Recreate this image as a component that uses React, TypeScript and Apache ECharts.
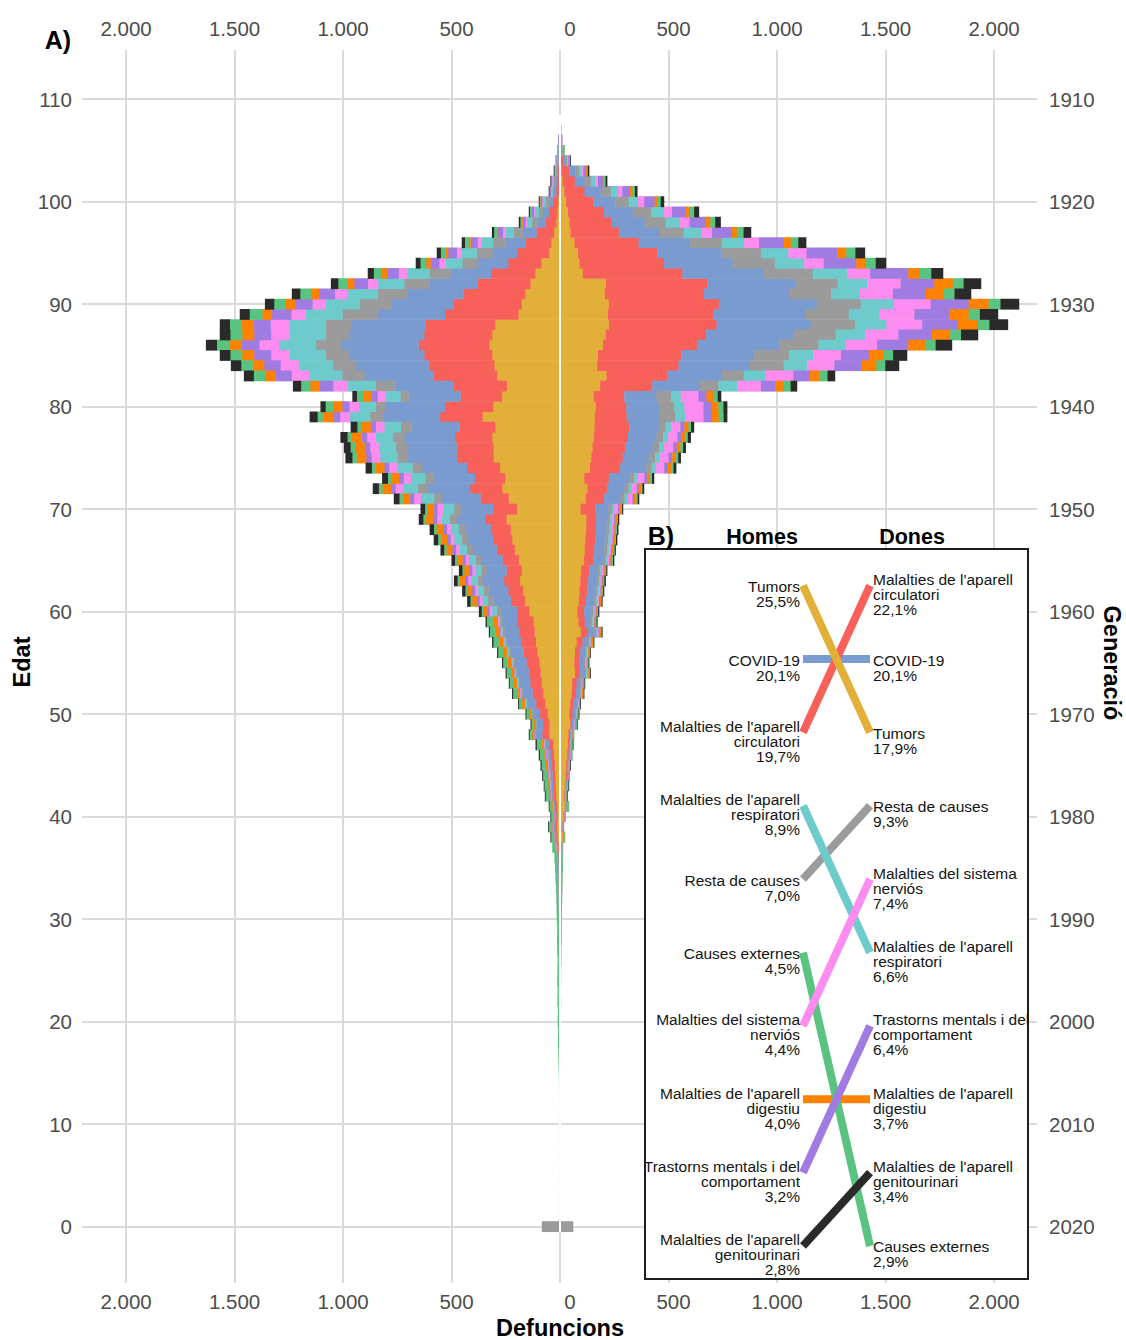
import React, { useEffect, useRef } from 'react';
import * as echarts from 'echarts';

const FONT = '"Liberation Sans", Arial, Helvetica, sans-serif';

// ---------- Panel A: deaths by single age (0..108) ----------
const ages: number[] = [...Array(109).keys()];

// Men (Homes) – one array per cause, ages 0..108
const menTumors = [
  0,1,1,1,0,1,0,1,0,1, 1,1,1,1,1,1,2,2,
  1,1,1,1,1,1,2,1,1,2, 2,2,2,2,3,3,3,4,5,7,
  12,15,12,14,19,21,23,25,28,33,
  51,49,57,69,79,85,90,96,104,112,118,123,
  142,162,171,185,177,190,209,221,228,247,
  199,237,267,254,277,306,308,313,299,357,
  309,268,
  246,291,303,313,326,313,300,
  192,177,161,137,115,86,
  51,41,28,17,13,9,5,4,2,2,1,1,0,0];
const menCirc = [
  0,0,0,0,0,0,0,0,0,0, 0,0,0,0,0,0,0,0,
  0,0,1,0,1,1,1,1,1,1, 1,1,1,2,2,2,2,2,3,4,
  6,8,6,8,10,11,12,13,15,18,
  31,30,35,42,48,52,55,59,64,69,72,75,
  56,64,68,73,70,75,83,87,90,98,
  109,130,147,139,152,168,169,172,164,196,
  221,191,
  246,291,303,313,326,313,320,
  339,313,284,243,204,153,
  147,118,81,49,37,25,13,11,8,5,3,2,1,1];
const menCovid = [
  0,0,0,0,0,0,0,0,0,0, 0,0,0,0,0,0,0,0,
  0,0,0,0,0,0,0,0,0,0, 0,0,1,1,1,1,2,2,2,3,
  4,5,4,5,7,7,8,9,10,13,
  29,27,32,38,44,47,50,53,58,62,65,68,
  75,85,90,98,93,100,110,116,120,130,
  148,176,198,188,206,227,229,233,222,265,
  276,239,
  271,320,334,345,359,345,345,
  310,285,259,222,186,139,
  113,90,63,38,29,19,10,9,6,4,3,2,1,1];
const menResta = [
  83,2,1,0,0,0,0,0,0,0, 0,1,0,0,1,1,1,1,
  1,1,1,1,1,1,1,1,1,1, 1,1,1,1,1,2,2,2,2,3,
  3,3,3,3,4,5,5,5,6,6,
  4,4,5,6,7,7,8,8,9,9,10,10,
  19,21,22,24,23,25,28,29,30,33,
  32,38,43,41,45,49,50,51,48,58,
  44,38,
  86,102,106,110,114,110,115,
  162,149,136,116,97,73,
  74,59,41,25,19,13,7,6,4,3,2,1,1,0];
const menResp = [
  0,0,0,0,0,0,0,0,0,0, 0,0,0,0,0,0,0,0,
  0,0,0,0,0,0,0,0,0,0, 0,0,0,0,0,0,0,0,0,0,
  1,1,1,1,2,2,2,2,2,3,
  3,2,3,4,4,5,5,5,6,6,7,7,
  22,26,27,29,28,30,33,35,36,39,
  51,61,69,66,72,79,80,81,77,92,
  77,67,
  129,153,159,165,171,165,168,
  170,156,142,121,102,76,
  68,54,38,23,17,12,6,5,3,3,2,1,1,0];
const menNerv = [
  0,0,0,0,0,0,0,0,0,0, 0,0,0,0,0,0,0,0,
  1,1,1,1,1,1,1,1,1,1, 1,1,1,1,1,1,1,1,1,2,
  1,2,1,2,2,2,3,3,3,3,
  1,1,1,2,2,2,2,3,3,3,3,4,
  11,13,14,15,14,15,17,17,18,20,
  26,31,34,33,36,40,40,40,39,46,
  44,38,
  68,80,83,86,90,86,86,
  66,61,56,47,40,30,
  23,18,13,8,6,4,2,2,1,1,0,0,0,0];
const menMental = [
  0,0,0,0,0,0,0,0,0,0, 0,0,0,0,0,0,0,0,
  0,0,0,0,0,0,0,0,0,0, 0,0,0,0,0,0,0,0,0,0,
  1,2,1,1,2,2,2,3,3,3,
  1,1,1,2,2,2,2,2,2,3,3,3,
  11,13,14,15,14,15,17,17,18,19,
  16,19,22,20,22,25,25,25,24,29,
  33,29,
  62,73,76,78,82,78,78,
  89,82,74,63,53,40,
  40,32,22,13,10,7,4,3,2,1,1,1,0,0];
const menDigest = [
  0,0,0,0,0,0,0,0,0,0, 0,0,0,0,0,0,0,0,
  0,0,0,0,0,0,0,0,0,0, 0,0,0,0,0,0,0,1,1,2,
  3,3,3,3,4,5,5,6,6,7,
  9,8,9,12,13,14,15,16,17,19,20,21,
  19,21,22,24,23,25,27,29,30,32,
  29,34,39,37,40,44,45,45,43,52,
  44,38,
  43,51,53,55,57,55,55,
  44,41,37,32,27,20,
  11,9,6,4,3,2,1,1,0,0,0,0,0,0];
const menExtern = [
  0,1,0,1,1,1,1,1,1,1, 1,1,1,2,2,3,3,4,
  6,5,6,6,7,6,7,7,6,7, 8,7,8,8,8,9,10,10,11,14,
  11,14,11,13,17,18,19,20,21,22,
  12,11,13,15,18,19,20,21,23,25,26,27,
  7,9,9,10,9,10,11,12,12,13,
  13,15,17,16,18,20,20,20,19,23,
  33,29,
  43,51,53,55,57,55,55,
  59,54,49,42,35,27,
  23,18,13,7,6,4,2,1,1,1,0,0,0,0];
const menGenito = [
  0,0,0,0,0,0,0,0,0,0, 0,0,0,0,0,0,0,0,
  0,0,0,0,0,0,0,0,0,0, 0,0,0,0,0,0,0,0,0,0,
  1,1,1,1,2,1,2,3,3,4,
  2,2,2,2,3,2,3,3,3,4,3,4,
  11,13,13,15,14,14,15,18,18,19,
  19,24,26,25,27,30,29,31,29,35,
  22,19,
  36,44,46,47,49,47,45,
  44,41,37,32,26,20,
  17,13,8,5,3,2,1,1,1,0,0,0,0,0];

// Women (Dones) – one array per cause, ages 0..108
const womenTumors = [
  0,1,1,0,1,0,1,0,1,0, 1,0,1,1,1,1,1,1,
  1,1,1,1,2,1,2,2,2,2, 3,3,3,4,4,5,5,6,6,7,
  14,11,16,25,20,25,27,29,34,37,39,48,
  44,48,55,57,70,67,70,78,97,86,
  81,88,91,95,98,112,115,118,121,122,
  96,120,128,113,139,145,151,157,160,
  162,166,156,186,215,
  172,176,199,212,227,222,226,208,213,
  106,90,84,68,49,44,38,29,21,13,8,3,1,0,0,0];
const womenCirc = [
  0,0,0,0,0,0,0,0,0,0, 0,0,0,0,0,0,0,0,
  0,0,0,0,0,0,0,0,1,1, 1,1,1,1,1,1,1,1,1,1,
  2,2,3,4,3,4,5,5,6,6,7,8,
  15,16,19,20,24,23,24,27,33,29,
  31,33,35,36,37,42,44,45,46,46,
  67,84,89,113,139,145,151,157,160,
  146,140,141,240,279,
  375,384,433,462,495,484,507,455,466,
  459,391,365,295,223,192,166,125,93,56,35,13,5,3,2,1];
const womenCovid = [
  0,0,0,0,0,0,0,0,0,0, 0,0,0,0,0,0,0,0,
  0,0,0,0,0,0,0,0,0,0, 0,0,0,0,1,1,1,1,1,1,
  2,1,2,3,3,3,4,4,5,5,5,6,
  13,14,17,17,21,20,21,24,29,26,
  32,35,37,38,39,45,46,47,48,49,
  61,76,81,95,118,122,127,132,136,
  154,153,148,218,253,
  328,336,379,404,433,424,451,398,407,
  371,315,295,238,184,155,134,101,75,46,28,10,4,2,1,1];
const womenResta = [
  60,1,0,0,0,0,0,0,0,0, 0,0,0,0,0,0,0,1,
  1,1,1,0,1,0,1,0,1,0, 1,1,1,0,1,1,1,1,1,1,
  1,1,1,2,1,2,2,2,2,2,3,3,
  4,5,6,6,7,7,7,8,10,9,
  9,10,10,10,11,12,13,13,13,14,
  15,18,19,22,27,28,29,30,31,
  69,69,67,87,101,
  156,160,181,193,206,202,203,189,194,
  229,195,183,147,115,96,83,62,46,28,17,6,3,2,1,0];
const womenResp = [
  0,0,0,0,0,0,0,0,0,0, 0,0,0,0,0,0,0,0,
  0,0,0,0,0,0,0,0,0,0, 0,0,0,0,0,0,0,0,0,0,
  0,0,0,1,1,1,1,1,1,1,1,2,
  3,3,3,3,4,4,4,5,6,5,
  7,8,8,8,9,10,10,11,11,11,
  12,15,15,17,21,22,23,24,25,
  46,46,45,87,101,
  109,112,126,135,144,141,152,133,136,
  159,135,126,102,84,67,58,43,32,20,12,4,2,1,0,0];
const womenNerv = [
  0,0,0,0,0,0,0,0,0,0, 0,0,0,0,0,0,0,0,
  0,0,0,1,0,1,0,1,0,1, 0,0,0,1,0,0,1,1,2,2,
  1,0,1,1,1,1,1,1,2,2,2,2,
  2,2,2,2,3,3,3,3,4,3,
  5,6,6,6,7,7,8,8,8,8,
  17,22,23,30,37,39,41,42,43,
  85,88,82,109,127,
  125,128,144,154,165,161,170,152,155,
  106,90,84,68,46,44,38,29,21,13,8,3,1,1,0,0];
const womenMental = [
  0,0,0,0,0,0,0,0,0,0, 0,0,0,0,0,0,0,0,
  0,0,0,0,0,0,0,0,0,0, 0,0,0,0,0,0,0,0,0,0,
  0,0,0,1,0,0,1,0,1,0,1,1,
  1,1,1,1,2,1,2,2,2,2,
  4,4,4,4,4,5,5,5,5,6,
  6,7,8,13,16,17,17,18,19,
  39,38,37,66,76,
  125,128,144,154,165,161,175,152,155,
  176,150,141,113,92,74,64,48,36,22,13,5,2,1,1,0];
const womenDigest = [
  0,0,0,0,0,0,0,0,0,0, 0,0,0,0,0,0,0,0,
  0,0,0,0,0,0,0,0,0,0, 0,0,0,0,0,0,0,0,0,0,
  1,1,1,1,1,1,1,2,2,2,2,3,
  4,4,4,5,6,5,6,6,8,7,
  5,6,6,6,6,8,8,8,8,8,
  9,11,12,13,16,17,17,18,19,
  31,31,30,38,44,
  69,70,79,85,91,89,92,83,85,
  53,45,42,34,23,22,19,14,11,6,4,2,1,0,0,0];
const womenExtern = [
  0,0,0,1,0,1,0,1,0,1, 0,1,0,1,1,1,1,1,
  1,1,1,1,1,1,1,1,1,1, 1,1,2,2,2,2,2,2,2,2,
  2,2,2,3,3,3,3,4,4,5,5,6,
  1,1,3,3,3,3,3,3,4,3,
  3,3,3,3,3,4,4,4,4,4,
  4,6,6,9,11,11,12,12,12,
  23,23,22,33,38,
  41,42,47,50,54,52,55,49,50,
  53,45,42,34,31,22,19,14,11,7,4,2,1,0,0,0];
const womenGenito = [
  0,0,0,0,0,0,0,0,0,0, 0,0,0,0,0,0,0,0,
  0,0,0,0,0,0,0,0,0,0, 0,0,0,0,0,0,0,0,0,0,
  0,0,0,0,1,1,0,1,0,1,0,1,
  1,1,1,1,1,1,1,1,2,2,
  3,2,3,4,3,4,3,4,4,4,
  3,5,6,8,11,10,11,12,12,
  15,16,14,28,33,
  62,63,74,77,84,82,84,75,79,
  53,46,43,35,33,24,21,14,10,6,5,1,0,0,0,0];

// ---------- causes ----------
const causeLabels = [
  ['Tumors'],
  ["Malalties de l'aparell", 'circulatori'],
  ['COVID-19'],
  ['Resta de causes'],
  ["Malalties de l'aparell", 'respiratori'],
  ['Malalties del sistema', 'nerviós'],
  ['Trastorns mentals i del', 'comportament'],
  ["Malalties de l'aparell", 'digestiu'],
  ['Causes externes'],
  ["Malalties de l'aparell", 'genitourinari'],
];
const causeColors = ['#E2AF38', '#F8615A', '#7A9BD0', '#9B9B9B', '#6ECBCB', '#FC8CEF', '#A07BE1', '#FC8200', '#5AC380', '#2A2A2A'];

const menByCause = [menTumors, menCirc, menCovid, menResta, menResp, menNerv, menMental, menDigest, menExtern, menGenito];
const womenByCause = [womenTumors, womenCirc, womenCovid, womenResta, womenResp, womenNerv, womenMental, womenDigest, womenExtern, womenGenito];

// ---------- Panel B: share of deaths (%) ----------
const menShare = [25.5, 19.7, 20.1, 7.0, 8.9, 4.4, 3.2, 4.0, 4.5, 2.8];
const womenShare = [17.9, 22.1, 20.1, 9.3, 6.6, 7.4, 6.4, 3.7, 2.9, 3.4];
const insetDrawOrder = [2, 7, 3, 8, 9, 1, 4, 6, 5, 0];

// ---------- axes ticks ----------
const xTickValues = [-2000, -1500, -1000, -500, 0, 500, 1000, 1500, 2000];
const xTickLabels = ['2.000', '1.500', '1.000', '{s|500}', '{z|0}', '{s|500}', '1.000', '1.500', '2.000'];
const ageTicks = [0, 10, 20, 30, 40, 50, 60, 70, 80, 90, 100, 110];
const generationLabels = ['2020', '2010', '2000', '1990', '1980', '1970', '1960', '1950', '1940', '1930', '1920', '1910'];

function stackSegments(byCause: number[][], sign: number) {
  const cum = ages.map(() => 0);
  return byCause.map((vals) => {
    const segs: number[][] = [];
    ages.forEach((age) => {
      const v = vals[age] || 0;
      if (v > 0) segs.push([age, sign * cum[age], sign * (cum[age] + v)]);
      cum[age] += v;
    });
    return segs;
  });
}

const rankOf = (shares: number[]) => shares.map((s) => 1 + shares.filter((o) => o > s).length);
const pct = (v: number) => `${v.toFixed(1).replace('.', ',')}%`;
const lookup = (vals: number[], labels: string[]) => (v: number) => {
  const i = vals.findIndex((t) => Math.abs(t - v) < 1e-6);
  return i >= 0 ? labels[i] : '';
};

export default function App() {
  const ref = useRef<HTMLDivElement>(null);

  useEffect(() => {
    document.body.style.margin = '0';
    if (!ref.current) return;
    const chart = echarts.init(ref.current, undefined, { renderer: 'svg' });

    const menSegs = stackSegments(menByCause, -1);
    const womenSegs = stackSegments(womenByCause, 1);
    const menRank = rankOf(menShare);
    const womenRank = rankOf(womenShare);

    const barSeries = causeLabels.map((_, ci) => ({
      type: 'custom',
      name: causeLabels[ci].join(' '),
      xAxisIndex: 0,
      yAxisIndex: 0,
      silent: true,
      progressive: 0,
      z: 2,
      dimensions: ['age', 'from', 'to'],
      encode: { x: [1, 2], y: 0 },
      data: [...menSegs[ci], ...womenSegs[ci]],
      renderItem: (params: any, api: any) => {
        const age = api.value(0);
        const a = api.value(1);
        const b = api.value(2);
        const p = api.coord([Math.min(a, b), age + 0.5]);
        const q = api.coord([Math.max(a, b), age - 0.5]);
        return {
          type: 'rect',
          shape: { x: p[0] - 0.25, y: p[1] - 0.3, width: q[0] - p[0] + 0.5, height: q[1] - p[1] + 0.6 },
          style: { fill: causeColors[ci] },
        };
      },
    }));

    const totals = ages.map((a) => menByCause.reduce((s, arr) => s + arr[a], 0) + womenByCause.reduce((s, arr) => s + arr[a], 0));
    const centerLine = {
      type: 'custom',
      xAxisIndex: 0,
      yAxisIndex: 0,
      silent: true,
      progressive: 0,
      z: 3,
      dimensions: ['x', 'age'],
      encode: { x: 0, y: 1 },
      data: ages.filter((a) => totals[a] > 0).map((a) => [0, a]),
      renderItem: (params: any, api: any) => {
        const age = api.value(1);
        const p = api.coord([0, age + 0.5]);
        const q = api.coord([0, age - 0.5]);
        return { type: 'rect', shape: { x: p[0] - 1, y: p[1] - 0.3, width: 2, height: q[1] - p[1] + 0.6 }, style: { fill: '#FFFFFF' } };
      },
    };

    const labelFont = `15.5px ${FONT}`;
    const insetSeries = {
      type: 'custom',
      xAxisIndex: 2,
      yAxisIndex: 2,
      silent: true,
      z: 10,
      dimensions: ['men', 'women', 'idx'],
      encode: { y: [0, 1] },
      data: insetDrawOrder.map((i) => [menRank[i], womenRank[i], i]),
      renderItem: (params: any, api: any) => {
        const i = api.value(2);
        const a = api.coord([0, api.value(0)]);
        const b = api.coord([1, api.value(1)]);
        const lines = causeLabels[i];
        const dy = (lines.length === 1 ? 1 : -6) - 7.5;
        const common = { fill: '#141414', font: labelFont, lineHeight: 15, verticalAlign: 'top', textVerticalAlign: 'top' };
        return {
          type: 'group',
          children: [
            { type: 'line', shape: { x1: a[0], y1: a[1], x2: b[0], y2: b[1] }, style: { stroke: causeColors[i], lineWidth: 8, lineCap: 'butt' } },
            { type: 'text', x: a[0] - 3, y: a[1] + dy, style: { ...common, text: [...lines, pct(menShare[i])].join('\n'), align: 'right', textAlign: 'right' } },
            { type: 'text', x: b[0] + 3, y: b[1] + dy, style: { ...common, text: [...lines, pct(womenShare[i])].join('\n'), align: 'left', textAlign: 'left', width: 158, overflow: 'truncate', ellipsis: '' } },
          ],
        };
      },
    };

    const tickLabelStyle = { color: '#4D4D4D', fontSize: 20.5, fontFamily: FONT };
    const xRich = {
      z: { ...tickLabelStyle, padding: [0, 0, 0, 20] },
      s: { ...tickLabelStyle, padding: [0, 0, 0, 10] },
    };
    const gridLine = { show: true, lineStyle: { color: '#DADADA', width: 2 } };
    const xFmt = lookup(xTickValues, xTickLabels);
    const ageFmt = lookup(ageTicks, ageTicks.map(String));
    const genFmt = lookup(ageTicks, generationLabels);
    const X_MIN = -2203;
    const X_MAX = 2198;
    const Y_MIN = -5.5;
    const Y_MAX = 114.8;

    const titleText = (text: string, x: number, y: number, size: number, rotation = 0) => ({
      type: 'text',
      x,
      y,
      rotation,
      z: 20,
      style: { text, fill: '#000', font: `bold ${size}px ${FONT}`, align: 'center', verticalAlign: 'middle', textAlign: 'center', textVerticalAlign: 'middle' },
    });

    chart.setOption({
      animation: false,
      backgroundColor: '#FFFFFF',
      grid: [
        { left: 82, top: 50, width: 955, height: 1233 },
        { left: 645, top: 549, width: 383, height: 730 },
      ],
      xAxis: [
        {
          gridIndex: 0, type: 'value', min: X_MIN, max: X_MAX, position: 'bottom',
          axisLine: { show: false },
          axisTick: { show: false, customValues: xTickValues },
          axisLabel: { ...tickLabelStyle, customValues: xTickValues, formatter: xFmt, margin: 8, rich: xRich },
          splitLine: gridLine,
        },
        {
          gridIndex: 0, type: 'value', min: X_MIN, max: X_MAX, position: 'top',
          axisLine: { show: false },
          axisTick: { show: false, customValues: xTickValues },
          axisLabel: { ...tickLabelStyle, customValues: xTickValues, formatter: xFmt, margin: 11, rich: xRich },
          splitLine: { show: false },
        },
        { gridIndex: 1, type: 'value', min: -2.358, max: 3.358, show: false, splitLine: { show: false } },
      ],
      yAxis: [
        {
          gridIndex: 0, type: 'value', min: Y_MIN, max: Y_MAX, position: 'left',
          axisLine: { show: false },
          axisTick: { show: false, customValues: ageTicks },
          axisLabel: { ...tickLabelStyle, customValues: ageTicks, formatter: ageFmt, margin: 10 },
          splitLine: gridLine,
        },
        {
          gridIndex: 0, type: 'value', min: Y_MIN, max: Y_MAX, position: 'right',
          axisLine: { show: false },
          axisTick: { show: false, customValues: ageTicks },
          axisLabel: { ...tickLabelStyle, customValues: ageTicks, formatter: genFmt, margin: 12 },
          splitLine: { show: false },
        },
        { gridIndex: 1, type: 'value', min: 0.5, max: 10.45, inverse: true, show: false, splitLine: { show: false } },
      ],
      graphic: [
        { type: 'rect', z: 5, shape: { x: 645, y: 549, width: 383, height: 730 }, style: { fill: '#FFFFFF', stroke: '#1E1E1E', lineWidth: 2 } },
        titleText('A)', 58, 40, 25),
        titleText('B)', 661, 536, 25),
        titleText('Homes', 762, 537, 21.5),
        titleText('Dones', 912, 537, 21.5),
        titleText('Edat', 22, 662, 23.5, Math.PI / 2),
        titleText('Generació', 1112, 663, 23.5, -Math.PI / 2),
        titleText('Defuncions', 560, 1328, 23.5),
      ],
      series: [...barSeries, centerLine, insetSeries],
    });

    return () => chart.dispose();
  }, []);

  return <div ref={ref} style={{ width: 1126, height: 1340 }} />;
}
